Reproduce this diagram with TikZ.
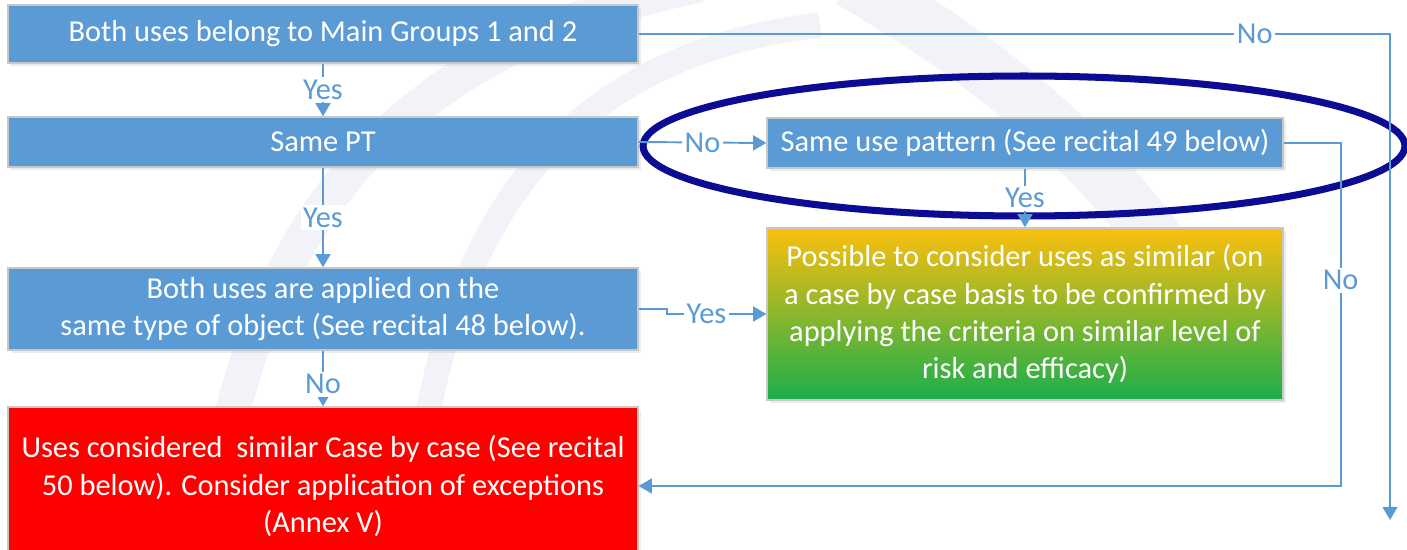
\documentclass[tikz,border=0pt]{standalone}
\usepackage{fontspec}
\setmainfont{Carlito}
\usetikzlibrary{arrows.meta, shadows}

\definecolor{boxblue}{HTML}{5B9BD5}
\definecolor{lineblue}{HTML}{5B9BD5}
\definecolor{navy}{HTML}{0B0B93}
\definecolor{wmark}{HTML}{F2F2F9}
\definecolor{topgold}{HTML}{FBBF0E}
\definecolor{botgreen}{HTML}{1BAE4B}

\begin{document}
\begin{tikzpicture}[
  x=0.02cm, y=-0.02cm,
  every node/.style={font=\fontsize{17.3}{21.2}\selectfont, text=white, align=center},
  blockbox/.style={draw=black!22, line width=0.8pt, fill=boxblue, minimum width=12.6cm,
    drop shadow={shadow xshift=1.5pt, shadow yshift=-1.5pt, opacity=0.15}},
  redbox/.style={blockbox, fill=red},
  gradbox/.style={blockbox, minimum width=10.32cm, top color=topgold, bottom color=botgreen},
  lbl/.style={fill=white, text=lineblue, inner sep=1.5pt},
  flow/.style={draw=lineblue, line width=1.1pt, -{Triangle[width=8.5pt,length=7.5pt]}},
  ring/.style={draw=navy, line width=4pt}
]
  \useasboundingbox (0,0) rectangle (1407,550);
  \clip (0,0) rectangle (1407,550);

  \draw[wmark, line width=0.7cm] (205,570) .. controls (235,300) and (330,60) .. (700,-15);
  \draw[wmark, line width=0.5cm] (410,570) .. controls (425,280) and (520,60) .. (820,25);
  \draw[wmark, line width=1.1cm] (850,-20) .. controls (950,40) and (1080,120) .. (1200,300);

  \node[blockbox, minimum height=1.16cm] (groups) at (323,34) {Both uses belong to Main Groups 1 and 2};
  \node[blockbox, minimum height=1.0cm] (samept) at (323,142) {Same PT};
  \node[blockbox, minimum height=1.64cm] (object) at (323,309)
    {Both uses are applied on the\\ same type of object (See recital 48 below).};
  \node[redbox, minimum height=3.16cm] (similar) at (323,486)
    {Uses considered\ \ similar Case by case (See recital\\ 50 below). Consider application of exceptions\\ (Annex V)};
  \node[blockbox, minimum width=10.32cm, minimum height=1.0cm] (pattern) at (1025,143)
    {Same use pattern (See recital 49 below)};
  \node[gradbox, minimum height=3.44cm] (possible) at (1025,314)
    {Possible to consider uses as similar (on\\ a case by case basis to be confirmed by\\ applying the criteria on similar level of\\ risk and efficacy)};

  \draw[ring] (1024,146) ellipse [x radius=7.62cm, y radius=1.4cm];

  \coordinate (drop) at (1390,520);
  \draw[flow] (groups) -- node[lbl]{Yes} (samept);
  \draw[flow] (samept) -- node[lbl]{Yes} (object);
  \draw[flow] (object) -- node[lbl, pos=0.6]{No} (similar);
  \draw[flow] (samept.east) -- node[lbl]{No} (pattern.west);
  \draw[flow] (pattern) -- node[lbl]{Yes} (possible);
  \draw[flow] (object.east) -- ++(28,0) |- node[lbl, pos=0.7]{Yes} (possible.west);
  \draw[flow] (pattern.east) -- ++(57,0) coordinate (turn) -- node[lbl, pos=0.4]{No} (turn |- similar.east) -- (similar.east);
  \draw[flow] (groups.east) -| node[lbl, pos=0.41]{No} (drop);
\end{tikzpicture}
\end{document}
